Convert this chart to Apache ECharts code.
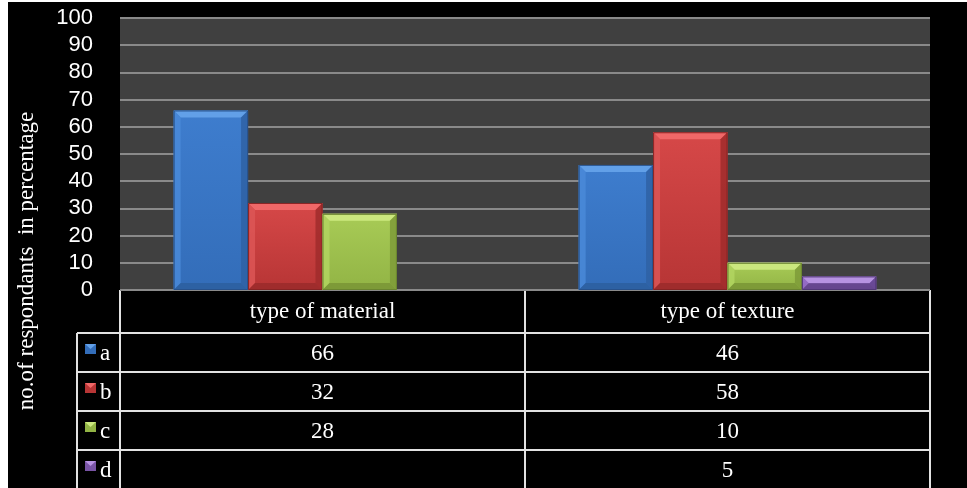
<!DOCTYPE html>
<html>
<head>
<meta charset="utf-8">
<script src="https://cdn.jsdelivr.net/npm/echarts@6/dist/echarts.min.js"></script>
<style>
  html, body { margin: 0; padding: 0; background: #fff; }
  #chart { width: 967px; height: 488px; }
</style>
</head>
<body>
<div id="chart"></div>
<script>
// Survey results: share of respondents per answer, for two questions
const categories = ['type of material', 'type of texture'];
const seriesNames = ['a', 'b', 'c', 'd'];
const valuesA = [66, 46];
const valuesB = [32, 58];
const valuesC = [28, 10];
const valuesD = [null, 5];
const yTicks = [0, 10, 20, 30, 40, 50, 60, 70, 80, 90, 100];
const axisTitle = 'no.of respondants  in percentage';

const seriesValues = [valuesA, valuesB, valuesC, valuesD];

// Bevelled bar palettes: face gradient, top/left/right/bottom bevel, outline
const palettes = [
  { f1: '#3e7dce', f2: '#336db9', top: '#62a0e8', left: '#4a8ad8', right: '#2f62a5', bottom: '#2c5e9e', line: '#28528c' },
  { f1: '#d64848', f2: '#b73535', top: '#f06868', left: '#dc5656', right: '#a02c2c', bottom: '#982a2a', line: '#862424' },
  { f1: '#a8cb56', f2: '#92b445', top: '#cbe87e', left: '#b2d560', right: '#7e9b38', bottom: '#789435', line: '#6a8430' },
  { f1: '#8b64bc', f2: '#7954a5', top: '#b793e2', left: '#966dc8', right: '#654590', bottom: '#604288', line: '#513777' }
];

// Layout of the plot area and the data table beneath it
const L = { left: 120, right: 930, top: 18, bottom: 290 };
const rowLines = [290, 333, 372, 411, 450, 489];
const legendLeft = 77;
const catGapRatio = 0.265;
const bevel = 7;
const tableFont = '23px "Liberation Serif"';

function bevelBar(params, api) {
  const v = api.value(1);
  if (v == null || isNaN(v)) return null;
  const si = params.seriesIndex;
  const p = palettes[si];
  const base = api.coord([api.value(0), 0]);
  const topPt = api.coord([api.value(0), v]);
  const band = api.size([1, 0])[0];
  const group = band * (1 - catGapRatio);
  const w = group / seriesNames.length;
  const x = base[0] - group / 2 + si * w;
  const y = topPt[1];
  const h = base[1] - topPt[1];
  const b = Math.min(bevel, h / 2, w / 2);
  const face = new echarts.graphic.LinearGradient(0, 0, 0, 1, [
    { offset: 0, color: p.f1 }, { offset: 1, color: p.f2 }
  ]);
  return {
    type: 'group',
    children: [
      { type: 'rect', shape: { x: x, y: y, width: w, height: h }, style: { fill: face } },
      { type: 'polygon', shape: { points: [[x, y], [x + w, y], [x + w - b, y + b], [x + b, y + b]] }, style: { fill: p.top } },
      { type: 'polygon', shape: { points: [[x, y], [x + b, y + b], [x + b, y + h - b], [x, y + h]] }, style: { fill: p.left, opacity: 0.85 } },
      { type: 'polygon', shape: { points: [[x + w, y], [x + w - b, y + b], [x + w - b, y + h - b], [x + w, y + h]] }, style: { fill: p.right, opacity: 0.85 } },
      { type: 'polygon', shape: { points: [[x, y + h], [x + b, y + h - b], [x + w - b, y + h - b], [x + w, y + h]] }, style: { fill: p.bottom, opacity: 0.8 } },
      { type: 'rect', shape: { x: x + 0.5, y: y + 0.5, width: w - 1, height: h - 1 }, style: { fill: null, stroke: p.line, lineWidth: 1 } }
    ]
  };
}

const series = seriesNames.map((name, si) => ({
  type: 'custom',
  name: name,
  renderItem: bevelBar,
  encode: { x: 0, y: 1 },
  data: seriesValues[si].map((v, ci) => [ci, v == null ? '-' : v]),
  z: 3
}));

// Data table: borders, values, legend keys
const lineColor = '#e2e2e2';
const graphics = [
  { type: 'rect', shape: { x: 0, y: 0, width: 8, height: 488 }, style: { fill: '#fff' }, silent: true },
  { type: 'rect', shape: { x: 0, y: 0, width: 967, height: 2 }, style: { fill: '#fff' }, silent: true },
  {
    type: 'text', x: 27, y: 261, rotation: Math.PI / 2,
    style: { text: axisTitle, fill: '#fff', font: '23px "Liberation Serif"', textAlign: 'center', textVerticalAlign: 'middle' }
  }
];
const colEdges = [L.left];
const colW = (L.right - L.left) / categories.length;
categories.forEach((c, i) => colEdges.push(L.left + colW * (i + 1)));

// horizontal rules
rowLines.slice(0, 5).forEach((ry, i) => {
  graphics.push({ type: 'line', shape: { x1: i === 0 ? L.left : legendLeft, y1: ry, x2: L.right, y2: ry }, style: { stroke: lineColor, lineWidth: 2 } });
});
// vertical rules
colEdges.forEach((cx) => {
  graphics.push({ type: 'line', shape: { x1: cx, y1: rowLines[0], x2: cx, y2: 488 }, style: { stroke: lineColor, lineWidth: 2 } });
});
graphics.push({ type: 'line', shape: { x1: legendLeft, y1: rowLines[1], x2: legendLeft, y2: 488 }, style: { stroke: lineColor, lineWidth: 2 } });

seriesNames.forEach((name, si) => {
  const r0 = rowLines[si + 1], r1 = rowLines[si + 2];
  const cy = (r0 + r1) / 2 + 1.5;
  const p = palettes[si];
  const ix = 85, iy = r0 + 11, iw = 11, ih = 10;
  graphics.push({ type: 'rect', shape: { x: ix, y: iy, width: iw, height: ih }, style: { fill: p.f2 } });
  graphics.push({ type: 'polygon', shape: { points: [[ix, iy], [ix + iw, iy], [ix + iw / 2, iy + ih / 2]] }, style: { fill: p.top } });
  graphics.push({ type: 'text', x: 100, y: cy, style: { text: name, fill: '#fff', font: tableFont, textAlign: 'left', textVerticalAlign: 'middle' } });
  seriesValues[si].forEach((v, ci) => {
    if (v == null) return;
    graphics.push({
      type: 'text', x: (colEdges[ci] + colEdges[ci + 1]) / 2, y: cy,
      style: { text: String(v), fill: '#fff', font: tableFont, textAlign: 'center', textVerticalAlign: 'middle' }
    });
  });
});

const chart = echarts.init(document.getElementById('chart'), null, { renderer: 'canvas' });
chart.setOption({
  backgroundColor: '#000',
  animation: false,
  grid: {
    left: L.left, right: 967 - L.right, top: L.top, bottom: 488 - L.bottom,
    show: true, backgroundColor: '#404040', borderWidth: 0
  },
  xAxis: {
    type: 'category',
    data: categories,
    axisLine: { show: false },
    axisTick: { show: false },
    splitLine: { show: false },
    axisLabel: {
      color: '#fff', fontFamily: 'Liberation Serif', fontSize: 23, margin: 10, lineHeight: 23
    }
  },
  yAxis: {
    type: 'value',
    min: yTicks[0],
    max: yTicks[yTicks.length - 1],
    interval: yTicks[1] - yTicks[0],
    axisLine: { show: false },
    axisTick: { show: false },
    axisLabel: { color: '#fff', fontFamily: 'Liberation Sans', fontSize: 22, margin: 27 },
    splitLine: { show: true, lineStyle: { color: '#8a8a8a', width: 2 } }
  },
  series: series,
  graphic: graphics
});
</script>
</body>
</html>
